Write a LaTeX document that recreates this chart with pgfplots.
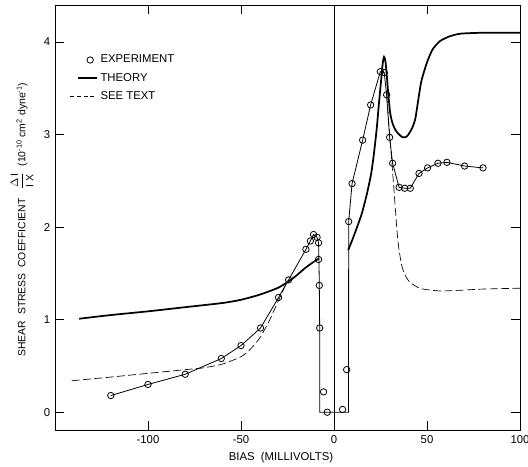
\documentclass[border=0pt]{standalone}
\usepackage{fontspec}
\setmainfont{Liberation Sans}
\usepackage{pgfplots}
\pgfplotsset{compat=1.18}
\pgfplotsset{
  legline/.style={legend image code/.code={\draw[##1] (0cm,0cm) -- (0.7cm,0cm);}},
  legexp/.style={legend image code/.code={\draw[##1] plot coordinates {(0.52cm,0cm)};}},
  legthe/.style={legend image code/.code={\draw[##1] (0.2cm,0cm) -- (0.7cm,0cm);}},
}
\begin{document}
\begin{tikzpicture}
\begin{axis}[
  name=ax,
  scale only axis,
  width=348.75pt, height=319.3pt,
  xmin=-150, xmax=100, ymin=-0.2, ymax=4.4,
  axis line style={line width=0.6pt},
  xtick={-100,-50,0,50,100},
  xticklabels={-100,-50,0,50,100},
  ytick={0,1,2,3,4},
  yticklabels={0,1,2,3,4},
  tick align=inside,
  major tick length=7pt,
  tick style={line width=0.6pt, black},
  ticklabel style={font=\fontsize{8.5}{10}\selectfont},
  xlabel={BIAS\ \ (MILLIVOLTS)},
  xlabel style={font=\fontsize{8.5}{10}\selectfont, at={(axis description cs:0.486,0)}, anchor=center, yshift=-20pt},
  ylabel={SHEAR\ \ STRESS\ \ COEFFICIENT\ \ \ $\displaystyle\frac{\Delta\,\mbox{I}}{\mbox{I X}}$\ \ (10\textsuperscript{-10} cm\textsuperscript{2} dyne\textsuperscript{-1})},
  ylabel style={font=\fontsize{7.8}{9}\selectfont, at={(axis description cs:-0.071,0.496)}, anchor=center},
  legend style={draw=none, fill=none, at={(axis cs:-142,3.89)}, anchor=north west, font=\fontsize{8.5}{10}\selectfont, row sep=2.2pt, inner sep=0pt},
  legend cell align=left,
  legline,
]
% legend entries
\addlegendimage{only marks, mark=o, mark size=2.4pt, mark options={fill=white, line width=0.6pt}, legexp}
\addlegendentry{EXPERIMENT}
\addlegendimage{black, line width=1.3pt, legthe}
\addlegendentry{THEORY}
\addlegendimage{black, line width=0.5pt, dash pattern=on 3pt off 2pt, legline}
\addlegendentry{SEE TEXT}

% zero bias line
\addplot[black, line width=0.6pt, forget plot] coordinates {(0,-0.2) (0,4.4)};

% theory
\addplot[black, line width=1.3pt, smooth, tension=0.4, forget plot] coordinates {
(-137,1.01) (-120,1.05) (-100,1.09) (-80,1.135) (-60,1.18) (-50,1.215) (-40,1.27) (-30,1.345) (-24,1.42) (-20,1.48) (-16,1.55) (-12,1.61) (-8.2,1.66)};
\addplot[black, line width=1.3pt, smooth, tension=0.4, forget plot] coordinates {
(7.6,1.75) (10,1.87) (12.4,2.0) (15,2.15) (17.7,2.36) (20,2.58) (21.5,2.8) (23,3.07) (24,3.30) (25.3,3.58) (26.2,3.77) (26.9,3.84) (27.6,3.80) (28.3,3.66) (29,3.48) (29.6,3.35) (30.3,3.22) (31.5,3.12) (33,3.05) (35,3.0) (37,2.97) (38.5,2.97) (40,3.0) (42,3.07) (43.7,3.17) (45.5,3.40) (47,3.58) (50,3.78) (53,3.92) (57,4.01) (62,4.06) (68,4.09) (80,4.10) (100,4.10)};

% see text (dashed)
\addplot[black, line width=0.5pt, dash pattern=on 6pt off 2.5pt, smooth, tension=0.4, forget plot] coordinates {
(-141,0.34) (-120,0.38) (-100,0.42) (-80,0.46) (-70,0.48) (-60,0.52) (-50,0.60) (-45,0.68) (-40,0.80) (-35,0.98) (-30,1.2) (-25,1.42)};
\addplot[black, line width=0.5pt, dash pattern=on 6pt off 2.5pt, smooth, tension=0.4, forget plot] coordinates {
(28.3,3.43) (30,2.98) (32,2.47) (33.9,1.95) (35,1.75) (36.6,1.57) (38.5,1.47) (41,1.40) (45,1.35) (48,1.33) (57,1.31) (70,1.32) (79,1.33) (100,1.34)};

% experiment connecting line
\addplot[black, line width=0.6pt, forget plot] coordinates {
(-120,0.18) (-100,0.30) (-80,0.41) (-60.6,0.58) (-50,0.72) (-39.5,0.91) (-29.8,1.24) (-24.4,1.43) (-15.1,1.76) (-12.7,1.85) (-11,1.92) (-9.1,1.89) (-8.3,1.83) (-8.1,1.65) (-7.9,1.37) (-7.7,0.91) (-7.7,0) (7.8,0) (7.9,2.06) (9.7,2.47) (15.4,2.94) (19.7,3.32) (24.9,3.68) (27,3.67) (28.3,3.43) (29.9,2.97) (31.5,2.69) (35,2.43) (38,2.42) (41,2.42) (45.7,2.58) (50.3,2.64) (55.9,2.69) (60.7,2.70) (70.2,2.66) (80.1,2.64)};

% experiment points
\addplot[only marks, mark=o, mark size=2.4pt, mark options={fill=white, line width=0.6pt}, forget plot] coordinates {
(-120,0.18) (-100,0.30) (-80,0.41) (-60.6,0.58) (-50,0.72) (-39.5,0.91) (-29.8,1.24) (-24.4,1.43) (-15.1,1.76) (-12.7,1.85) (-11,1.92) (-9.1,1.89) (-8.3,1.83) (-8.3,1.65) (-7.9,1.37) (-7.7,0.91) (-5.6,0.22) (-3.6,0.0) (4.6,0.03) (6.8,0.46) (7.9,2.06) (9.7,2.47) (15.4,2.94) (19.7,3.32) (24.9,3.68) (27,3.67) (28.3,3.43) (29.9,2.97) (31.5,2.69) (35,2.43) (38,2.42) (41,2.42) (45.7,2.58) (50.3,2.64) (55.9,2.69) (60.7,2.70) (70.2,2.66) (80.1,2.64)};
\end{axis}
\pgfresetboundingbox
\path (ax.south west) ++(-41.25pt,-26.5pt) coordinate (bbA);
\path (ax.north east) ++(6pt,3.75pt) coordinate (bbB);
\useasboundingbox (bbA) rectangle (bbB);
\end{tikzpicture}
\end{document}
